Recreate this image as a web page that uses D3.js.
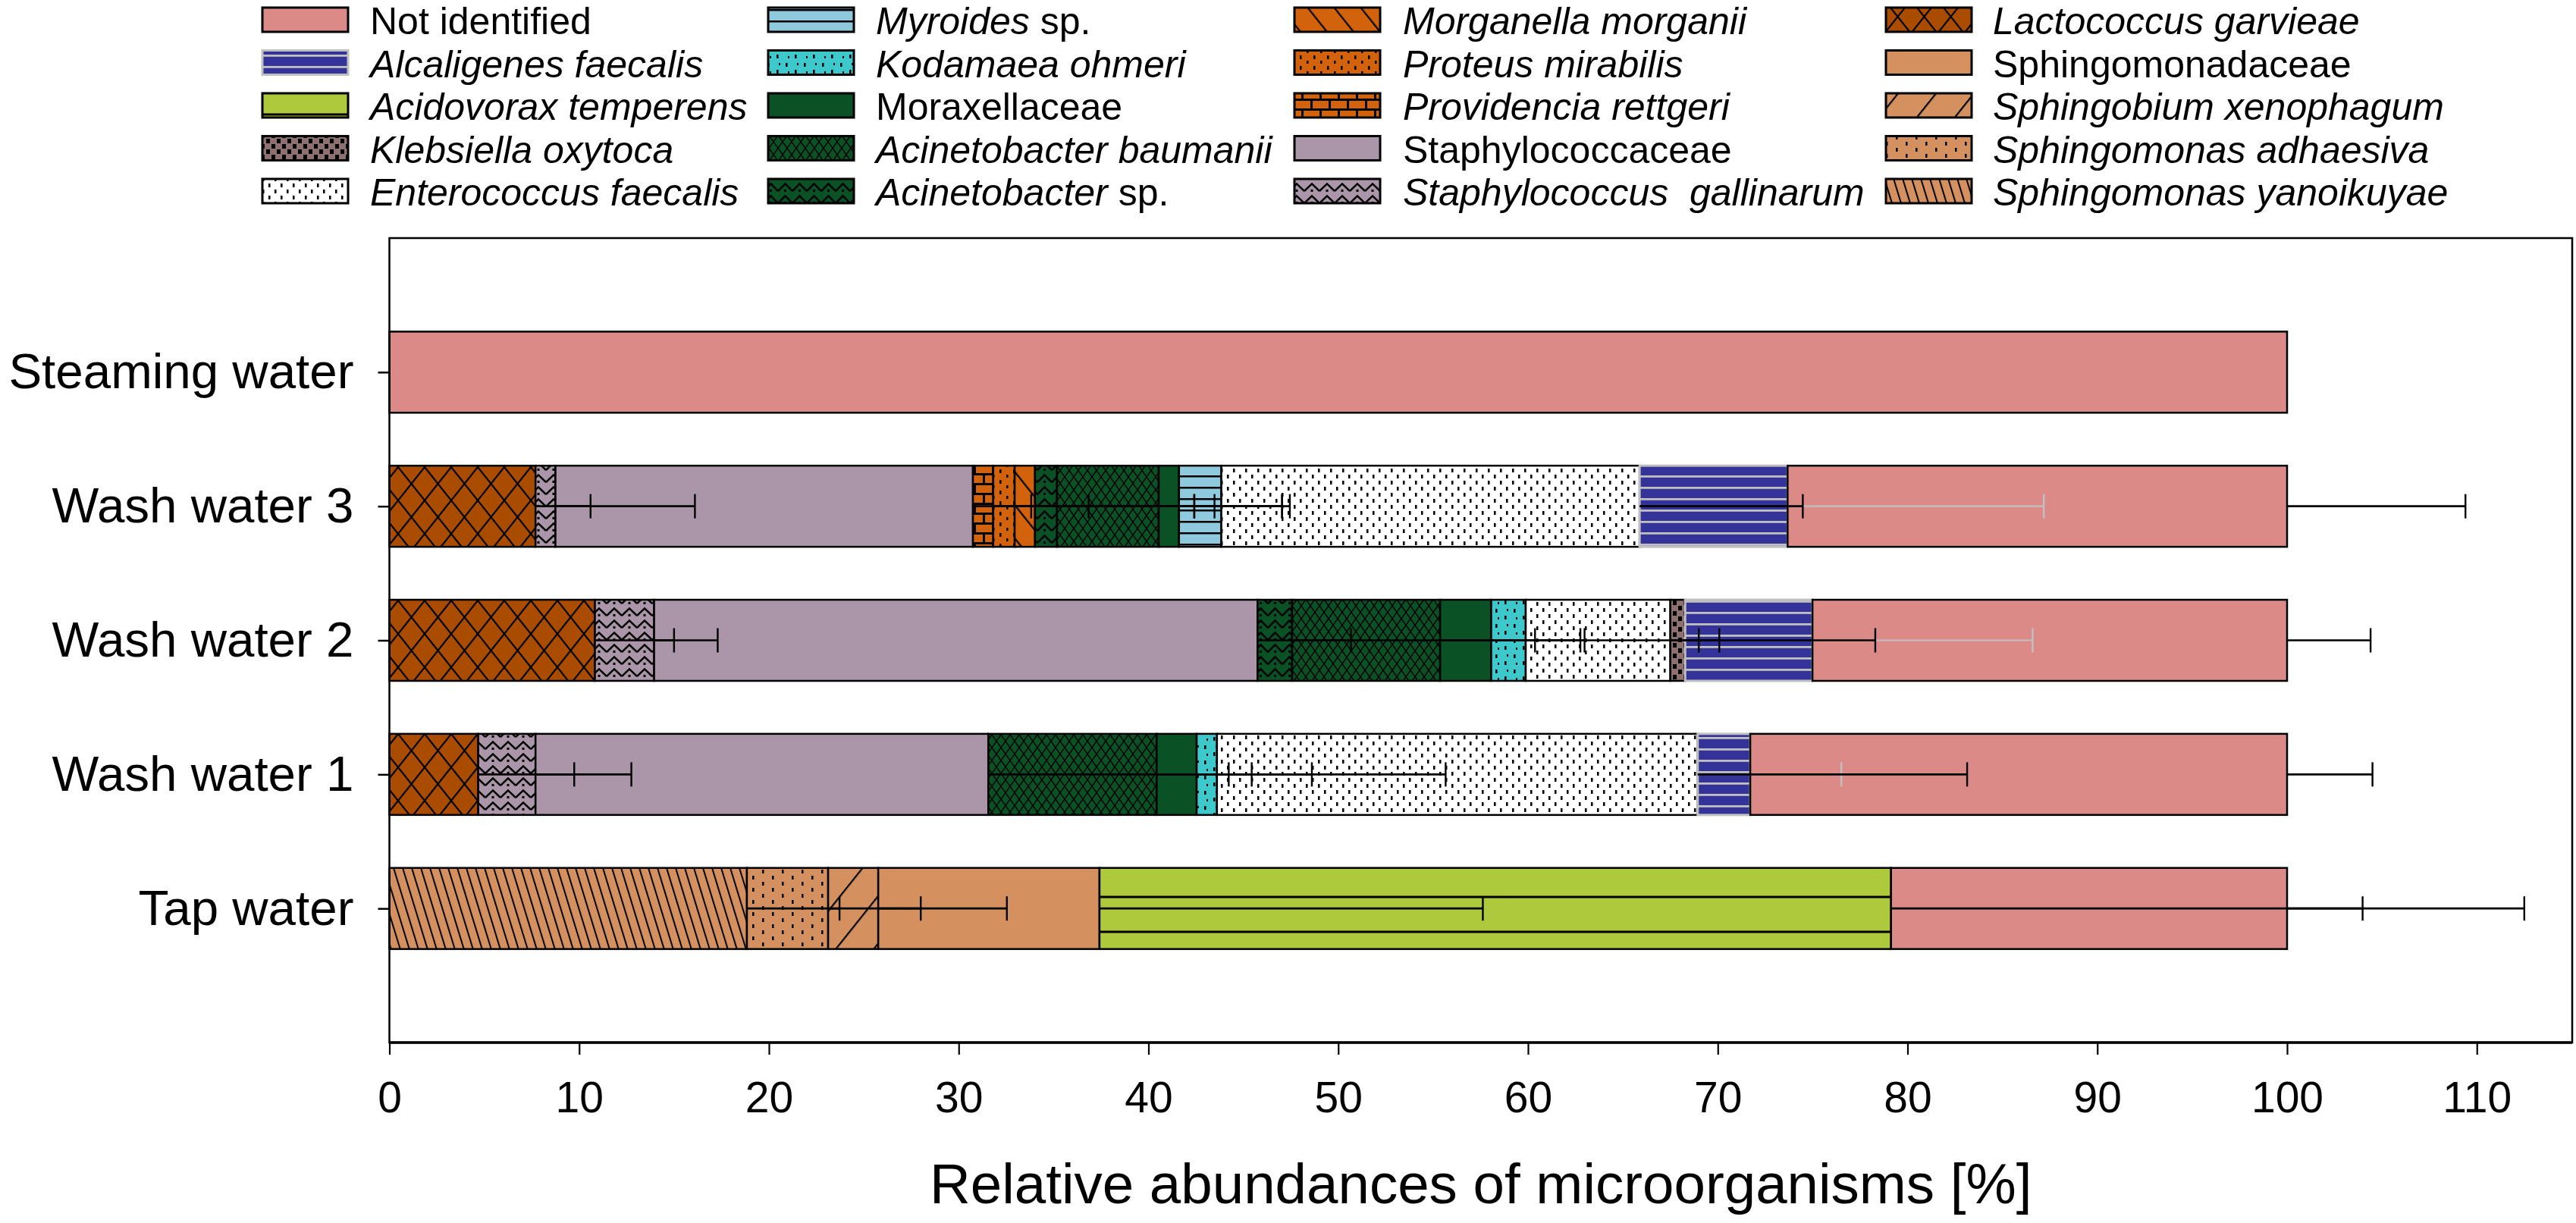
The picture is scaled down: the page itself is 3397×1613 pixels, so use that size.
<!DOCTYPE html>
<html><head><meta charset="utf-8">
<script src="https://cdn.jsdelivr.net/npm/d3@7"></script>
<style>
body{margin:0;background:#fff}
svg{display:block}
text{font-family:"Liberation Sans",Arial,Helvetica,sans-serif;fill:#000}
</style>
</head><body>
<svg id="chart" width="3397" height="1613"></svg>
<script>
// ---------------- DATA ----------------
const categories = ["Steaming water", "Wash water 3", "Wash water 2", "Wash water 1", "Tap water"];
const xTickValues = [0, 10, 20, 30, 40, 50, 60, 70, 80, 90, 100, 110];
const xAxisTitle = "Relative abundances of microorganisms [%]";

const legendLabels = [
  "Not identified", "*Alcaligenes faecalis*", "*Acidovorax temperens*", "*Klebsiella oxytoca*", "*Enterococcus faecalis*",
  "*Myroides* sp.", "*Kodamaea ohmeri*", "Moraxellaceae", "*Acinetobacter baumanii*", "*Acinetobacter* sp.",
  "*Morganella morganii*", "*Proteus mirabilis*", "*Providencia rettgeri*", "Staphylococcaceae", "*Staphylococcus  gallinarum*",
  "*Lactococcus garvieae*", "Sphingomonadaceae", "*Sphingobium xenophagum*", "*Sphingomonas adhaesiva*", "*Sphingomonas yanoikuyae*"
];

// stack order, values [%] and (one-sided) error values per sample
const taxaSteaming = ["Not identified"];
const valuesSteaming = [100];
const errorsSteaming = [0];

const taxaWash3 = ["Lactococcus garvieae", "Staphylococcus  gallinarum", "Staphylococcaceae", "Providencia rettgeri", "Proteus mirabilis",
  "Morganella morganii", "Acinetobacter sp.", "Acinetobacter baumanii", "Moraxellaceae", "Myroides sp.", "Enterococcus faecalis",
  "Alcaligenes faecalis", "Not identified"];
const valuesWash3 = [7.7, 1.05, 22.0, 1.07, 1.13, 1.07, 1.16, 5.36, 1.07, 2.23, 22.04, 7.8, 26.32];
const errorsWash3 = [8.4, 1.85, 16.7, 2.0, 3.9, 8.4, 8.3, 6.5, 0.8, 3.2, 8.6, 13.5, 9.4];

const taxaWash2 = ["Lactococcus garvieae", "Staphylococcus  gallinarum", "Staphylococcaceae", "Acinetobacter sp.", "Acinetobacter baumanii",
  "Moraxellaceae", "Kodamaea ohmeri", "Enterococcus faecalis", "Klebsiella oxytoca", "Alcaligenes faecalis", "Not identified"];
const valuesWash2 = [10.83, 3.12, 31.8, 1.82, 7.8, 2.69, 1.82, 7.62, 0.78, 6.71, 25.01];
const errorsWash2 = [6.47, 1.05, 32.55, 3.1, 5.0, 4.7, 3.1, 1.5, 1.8, 11.6, 4.4];

const taxaWash1 = ["Lactococcus garvieae", "Staphylococcus  gallinarum", "Staphylococcaceae", "Acinetobacter baumanii", "Moraxellaceae",
  "Kodamaea ohmeri", "Enterococcus faecalis", "Alcaligenes faecalis", "Not identified"];
const valuesWash1 = [4.68, 3.02, 23.86, 8.87, 2.11, 1.07, 25.33, 2.77, 28.29];
const errorsWash1 = [8.07, 2.04, 24.1, 3.8, 2.9, 5.0, 14.2, 4.8, 4.5];

const taxaTap = ["Sphingomonas yanoikuyae", "Sphingomonas adhaesiva", "Sphingobium xenophagum", "Sphingomonadaceae", "Acidovorax temperens", "Not identified"];
const valuesTap = [18.84, 4.28, 2.64, 11.66, 41.71, 20.87];
const errorsTap = [13.7, 0.6, 2.24, 20.2, 24.85, 12.5];

// ---------------- BUILD ----------------
const samples = [
  {name: categories[0], taxa: taxaSteaming, values: valuesSteaming, errors: errorsSteaming},
  {name: categories[1], taxa: taxaWash3, values: valuesWash3, errors: errorsWash3},
  {name: categories[2], taxa: taxaWash2, values: valuesWash2, errors: errorsWash2},
  {name: categories[3], taxa: taxaWash1, values: valuesWash1, errors: errorsWash1},
  {name: categories[4], taxa: taxaTap, values: valuesTap, errors: errorsTap}
];
const speciesNames = legendLabels.map(s => s.replace(/\*/g, ""));

const plot = {left: 513.5, right: 3392, top: 314, bottom: 1375};
const svg = d3.select("#chart");
const defs = svg.append("defs");

const x = d3.scaleLinear().domain([0, 115]).range([plot.left, plot.left + 115 * 25.025]);
const y = d3.scalePoint().domain(categories).range([plot.top, plot.bottom]).padding(1);
const barH = y.step() * 0.605;

// ---------- fills / patterns ----------
const C = {
  pink: "#DB8A88", blue: "#333399", grey: "#C0C0C0", lime: "#AEC93B", kleb: "#8E7070",
  sky: "#8EC9DD", turq: "#3DC9CC", green: "#0B5126", orange: "#D2620C", mauve: "#AA95A9",
  brown: "#A94C00", tan: "#D4905F"
};
function pat(id, w, h, bg, draw, transform) {
  const p = defs.append("pattern").attr("id", id).attr("patternUnits", "userSpaceOnUse")
    .attr("width", w).attr("height", h);
  if (transform) p.attr("patternTransform", transform);
  p.append("rect").attr("width", w).attr("height", h).attr("fill", bg);
  if (draw) draw(p);
  return "url(#" + id + ")";
}
function slant(id, bg, sHoriz, angleDeg, lw) {
  const a = Math.abs(angleDeg) * Math.PI / 180;
  const perp = sHoriz * Math.cos(a);
  return pat(id, perp, 20, bg, p => p.append("rect").attr("width", lw).attr("height", 20).attr("fill", "#000"),
    "rotate(" + angleDeg + ")");
}
function diamonds(id, bg, cw, ch, lw) {
  return pat(id, cw, ch, bg, p => {
    let d = "";
    for (let k = -1; k <= 1; k++) {
      d += `M${k * cw - cw},${-ch} L${k * cw + 2 * cw},${2 * ch} `;
      d += `M${k * cw + 2 * cw},${-ch} L${k * cw - cw},${2 * ch} `;
    }
    p.append("path").attr("d", d).attr("stroke", "#000").attr("stroke-width", lw).attr("fill", "none");
  });
}
function zigzag(id, bg, zw, zh, lw) {
  return pat(id, zw, zh, bg, p => {
    p.append("path").attr("d", `M0,${zh * 0.75} L${zw / 2},${zh * 0.15} L${zw},${zh * 0.75}`)
      .attr("stroke", "#000").attr("stroke-width", lw).attr("fill", "none");
    p.append("rect").attr("x", zw / 2 - 1.5).attr("y", zh * 0.62).attr("width", 3).attr("height", 3).attr("fill", "#000");
  });
}
function dashes(id, bg, dw, dh, marks) {
  return pat(id, dw, dh, bg, p => marks.forEach(m =>
    p.append("rect").attr("x", m[0]).attr("y", m[1]).attr("width", m[2]).attr("height", m[3]).attr("fill", "#000")));
}

const fills = {};
fills["Not identified"] = C.pink;
fills["Alcaligenes faecalis"] = pat("alc", 40, 15, C.blue, p => p.append("rect").attr("y", 12).attr("width", 40).attr("height", 2.8).attr("fill", C.grey));
fills["Acidovorax temperens"] = pat("acid", 40, 46, C.lime, p => p.append("rect").attr("y", 31.5).attr("width", 40).attr("height", 3).attr("fill", "#000"));
fills["Klebsiella oxytoca"] = dashes("kleb", C.kleb, 14, 14, [[1, 1, 5, 6], [8, 8, 5, 6]]);
fills["Enterococcus faecalis"] = dashes("ent", "#fff", 16, 16, [[2, 2, 2.5, 5], [10, 10, 2.5, 5]]);
fills["Myroides sp."] = pat("myr", 40, 15, C.sky, p => p.append("rect").attr("y", 12).attr("width", 40).attr("height", 2.5).attr("fill", "#000"));
fills["Kodamaea ohmeri"] = dashes("kod", C.turq, 24, 20, [[4, 3, 2.5, 5], [16, 12, 2.5, 5], [19, 3, 2, 3], [7, 14, 2, 3]]);
fills["Moraxellaceae"] = C.green;
fills["Acinetobacter baumanii"] = diamonds("acb", C.green, 12, 17, 1.5);
fills["Acinetobacter sp."] = zigzag("acsp", C.green, 19, 16, 2.5);
fills["Morganella morganii"] = slant("morg", C.orange, 35, -38.6, 2.2);
fills["Proteus mirabilis"] = dashes("prot", C.orange, 18, 14, [[4, 3, 2.5, 5], [13, 10, 2.5, 5]]);
fills["Providencia rettgeri"] = pat("prov", 24, 26, C.orange, p => {
  p.append("rect").attr("y", 0).attr("width", 24).attr("height", 3).attr("fill", "#000");
  p.append("rect").attr("y", 13).attr("width", 24).attr("height", 3).attr("fill", "#000");
  p.append("rect").attr("x", 0).attr("y", 0).attr("width", 3).attr("height", 13).attr("fill", "#000");
  p.append("rect").attr("x", 12).attr("y", 13).attr("width", 3).attr("height", 13).attr("fill", "#000");
});
fills["Staphylococcaceae"] = C.mauve;
fills["Staphylococcus  gallinarum"] = zigzag("sgal", C.mauve, 20, 16, 2.5);
fills["Lactococcus garvieae"] = diamonds("lacto", C.brown, 35, 44, 2.2);
fills["Sphingomonadaceae"] = C.tan;
fills["Sphingobium xenophagum"] = slant("sxen", C.tan, 50, 38.6, 2.2);
fills["Sphingomonas adhaesiva"] = dashes("sadh", C.tan, 26, 16, [[4, 3, 2.5, 5], [17, 11, 2.5, 5]]);
fills["Sphingomonas yanoikuyae"] = slant("syan", C.tan, 12, -17, 2);
const legendFills = Object.assign({}, fills);
legendFills["Acidovorax temperens"] = pat("acidL", 40, 46, C.lime, p => p.append("rect").attr("y", 11.5).attr("width", 40).attr("height", 3).attr("fill", "#000"));

const strokeOf = name => name === "Alcaligenes faecalis" ? C.grey : "#000";

// ---------- bars ----------
const gBars = svg.append("g");
const errs = [];
samples.forEach(s => {
  const cy = y(s.name);
  let cum = 0;
  s.taxa.forEach((t, i) => {
    const x0 = cum, x1 = cum + s.values[i];
    cum = x1;
    gBars.append("rect")
      .attr("x", x(x0)).attr("y", cy - barH / 2)
      .attr("width", x(x1) - x(x0)).attr("height", barH)
      .attr("fill", fills[t]).attr("stroke", strokeOf(t))
      .attr("stroke-width", t === "Alcaligenes faecalis" ? 3 : 2.5);
    if (s.errors[i] > 0) errs.push({cy, from: x1, to: x1 + s.errors[i], col: strokeOf(t)});
  });
});

// ---------- error bars ----------
const gErr = svg.append("g");
const errSorted = errs.filter(e => e.col !== "#000").concat(errs.filter(e => e.col === "#000"));
errSorted.forEach(e => {
  gErr.append("line").attr("x1", x(e.from)).attr("x2", x(e.to)).attr("y1", e.cy).attr("y2", e.cy)
    .attr("stroke", e.col).attr("stroke-width", e.col === "#000" ? 2.6 : 2.2);
  gErr.append("line").attr("x1", x(e.to)).attr("x2", x(e.to)).attr("y1", e.cy - 16).attr("y2", e.cy + 16)
    .attr("stroke", e.col).attr("stroke-width", 2.4);
});

// ---------- frame & axes ----------
svg.append("rect").attr("x", plot.left).attr("y", plot.top)
  .attr("width", plot.right - plot.left).attr("height", plot.bottom - plot.top)
  .attr("fill", "none").attr("stroke", "#000").attr("stroke-width", 2.5);

const xAxis = d3.axisBottom(x).tickValues(xTickValues).tickSize(16).tickPadding(36).tickFormat(d3.format("d"));
const gx = svg.append("g").attr("transform", `translate(0,${plot.bottom})`).call(xAxis);
gx.select(".domain").attr("d", `M${plot.left},0H${plot.right}`).attr("stroke-width", 3.5);
gx.selectAll(".tick line").attr("stroke-width", 2.2);
gx.selectAll(".tick text").attr("font-size", 57).attr("font-family", '"Liberation Sans",Arial,sans-serif').attr("fill", "#000");

const yAxis = d3.axisLeft(y).tickSize(15).tickPadding(32);
const gy = svg.append("g").attr("transform", `translate(${plot.left},0)`).call(yAxis);
gy.select(".domain").remove();
gy.selectAll(".tick line").attr("stroke-width", 2.5);
gy.selectAll(".tick text").attr("font-size", 65.5).attr("font-family", '"Liberation Sans",Arial,sans-serif').attr("fill", "#000");

svg.append("text").attr("x", (plot.left + plot.right) / 2).attr("y", 1587)
  .attr("text-anchor", "middle").attr("font-size", 74.5).text(xAxisTitle);

// ---------- legend ----------
const colSwatchX = [346, 1013, 1707, 2487];
const colTextX = [488, 1155, 1850, 2628];
const rowCY = d => 26 + d * 56.5;
const gLeg = svg.append("g");
legendLabels.forEach((lab, i) => {
  const col = Math.floor(i / 5), row = i % 5;
  const name = speciesNames[i];
  const cy = rowCY(row);
  gLeg.append("rect").attr("x", colSwatchX[col]).attr("y", cy - 16).attr("width", 113).attr("height", 32)
    .attr("fill", legendFills[name]).attr("stroke", strokeOf(name)).attr("stroke-width", 3);
  const t = gLeg.append("text").attr("x", colTextX[col]).attr("y", cy + 19).attr("font-size", 50)
    .style("white-space", "pre");
  lab.split("*").forEach((part, k) => {
    if (!part) return;
    t.append("tspan").attr("font-style", k % 2 === 1 ? "italic" : "normal").text(part);
  });
});
</script>
</body></html>
